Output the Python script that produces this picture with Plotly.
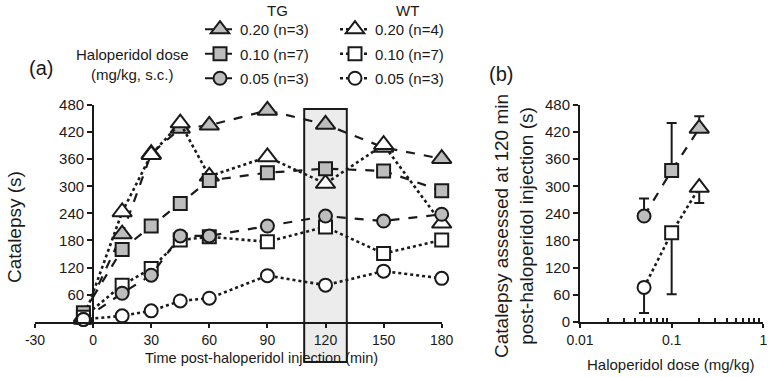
import plotly.graph_objects as go

# ---------------- data ----------------
time_min = [-5, 15, 30, 45, 60, 90, 120, 150, 180]
tg_020 = [10, 194, 372, 428, 435, 468, 437, 386, 361]
wt_020 = [5, 243, 370, 440, 322, 365, 306, 392, 218]
tg_010 = [20, 160, 212, 262, 313, 330, 339, 334, 290]
wt_010 = [10, 81, 118, 181, 188, 177, 210, 151, 181]
tg_005 = [5, 63, 103, 190, 190, 212, 234, 223, 238]
wt_005 = [5, 13, 24, 46, 52, 102, 81, 112, 96]

dose = [0.05, 0.1, 0.2]
tg_120 = [234, 335, 428]
tg_120_err = [39, 105, 27]
wt_120 = [76, 197, 297]
wt_120_err = [57, 136, 34]

a_xticks = [-30, 0, 30, 60, 90, 120, 150, 180]
a_xticktext = ["-30", "0", "30", "60", "90", "120", "150", "180"]
a_yticks = [60, 120, 180, 240, 300, 360, 420, 480]
b_yticks = [0, 60, 120, 180, 240, 300, 360, 420, 480]
b_xticks = [0.01, 0.1, 1]
b_xticktext = ["0.01", "0.1", "1"]
b_minor = [0.02, 0.03, 0.04, 0.05, 0.06, 0.07, 0.08, 0.09,
           0.2, 0.3, 0.4, 0.5, 0.6, 0.7, 0.8, 0.9]

# ---------------- styling ----------------
W, H = 770, 377
INK = "#1a1a1a"
GRAY = "#bdbdbd"
FONT = "Liberation Sans, Arial, sans-serif"

def fx(p):
    return p / W

def fy(p):
    return 1 - p / H

xa_dom = [fx(35), fx(441.7)]
xb_dom = [fx(580), fx(763.3)]
y_dom = [fy(321.7), fy(105)]

fig = go.Figure()

series = [
    ("TG", "0.20 (n=3)", tg_020, "triangle-up", GRAY, "dash", "legend"),
    ("WT", "0.20 (n=4)", wt_020, "triangle-up", "white", "dot", "legend2"),
    ("TG", "0.10 (n=7)", tg_010, "square", GRAY, "dash", "legend"),
    ("WT", "0.10 (n=7)", wt_010, "square", "white", "dot", "legend2"),
    ("TG", "0.05 (n=3)", tg_005, "circle", GRAY, "dash", "legend"),
    ("WT", "0.05 (n=3)", wt_005, "circle", "white", "dot", "legend2"),
]
sizes = {"triangle-up": 17, "square": 13, "circle": 13}

for i, (grp, name, vals, sym, fill, dash, leg) in enumerate(series):
    fig.add_trace(go.Scatter(
        x=time_min, y=vals, mode="lines+markers", name=name,
        legend=leg, legendgroup=f"g{i}",
        line=dict(color=INK, width=2.2 if dash == "dash" else 2.6, dash=dash),
        marker=dict(symbol=sym, size=sizes[sym], color=fill, opacity=1,
                    line=dict(color=INK, width=2)),
        xaxis="x", yaxis="y", cliponaxis=False,
    ))

# panel (b)
b_symbols = ["circle", "square", "triangle-up"]
b_sizes = [13, 13, 17]
fig.add_trace(go.Scatter(
    x=dose, y=tg_120, mode="lines+markers", showlegend=False,
    line=dict(color=INK, width=2.2, dash="dash"),
    marker=dict(symbol=b_symbols, size=b_sizes, color=GRAY, opacity=1,
                line=dict(color=INK, width=2)),
    error_y=dict(type="data", array=tg_120_err, arrayminus=[0, 0, 0],
                 color=INK, thickness=2, width=5),
    xaxis="x2", yaxis="y2", cliponaxis=False,
))
fig.add_trace(go.Scatter(
    x=dose, y=wt_120, mode="lines+markers", showlegend=False,
    line=dict(color=INK, width=2.6, dash="dot"),
    marker=dict(symbol=b_symbols, size=b_sizes, color="white", opacity=1,
                line=dict(color=INK, width=2)),
    error_y=dict(type="data", array=[0, 0, 0], arrayminus=wt_120_err,
                 color=INK, thickness=2, width=5),
    xaxis="x2", yaxis="y2", cliponaxis=False,
))

axis_common = dict(showgrid=False, zeroline=False, showline=True,
                   linecolor=INK, linewidth=2, tickcolor=INK, tickwidth=2,
                   automargin=False)
xfont = dict(family=FONT, size=14, color=INK)
yfont = dict(family=FONT, size=15, color=INK)

a_ypos = xa_dom[0] + (0 - (-30)) / 210 * (xa_dom[1] - xa_dom[0])

fig.update_layout(
    width=W, height=H,
    margin=dict(l=0, r=0, t=0, b=0, autoexpand=False),
    paper_bgcolor="white", plot_bgcolor="rgba(0,0,0,0)",
    font=dict(family=FONT, color=INK),
    xaxis=dict(domain=xa_dom, range=[-30, 180], tickvals=a_xticks,
               ticktext=a_xticktext, tickfont=xfont,
               ticks="outside", ticklen=4, anchor="y", **axis_common),
    yaxis=dict(domain=y_dom, range=[0, 480], tickvals=a_yticks, tickfont=yfont,
               ticks="outside", ticklen=5, anchor="free", position=a_ypos,
               **axis_common),
    xaxis2=dict(domain=xb_dom, type="log", range=[-2, 0], tickvals=b_xticks,
                ticktext=b_xticktext, tickfont=xfont, ticks="outside",
                ticklen=4, anchor="y2",
                minor=dict(tickvals=b_minor, ticks="inside", ticklen=4,
                           tickcolor=INK, tickwidth=1.5, showgrid=False),
                **axis_common),
    yaxis2=dict(domain=y_dom, range=[0, 480], tickvals=b_yticks, tickfont=yfont,
                ticks="outside", ticklen=5, anchor="x2", **axis_common),
    legend=dict(x=fx(200), y=fy(13), xanchor="left", yanchor="top",
                tracegroupgap=2, itemwidth=30, bgcolor="rgba(0,0,0,0)",
                font=dict(family=FONT, size=15, color=INK)),
    legend2=dict(x=fx(335), y=fy(13), xanchor="left", yanchor="top",
                 tracegroupgap=2, itemwidth=30, bgcolor="rgba(0,0,0,0)",
                 font=dict(family=FONT, size=15, color=INK)),
    showlegend=True,
)

# highlighted 120-min box
fig.add_shape(type="rect", xref="x", yref="paper", x0=109, x1=131,
              y0=fy(362), y1=fy(109), fillcolor="#ececec",
              line=dict(color=INK, width=2), layer="below")

ann = [
    dict(text="(a)", x=fx(41), y=fy(68), size=20),
    dict(text="(b)", x=fx(501), y=fy(74), size=20),
    dict(text="Haloperidol dose", x=fx(132), y=fy(55), size=15),
    dict(text="(mg/kg, s.c.)", x=fx(132), y=fy(75), size=15),
    dict(text="TG", x=fx(277), y=fy(10), size=15),
    dict(text="WT", x=fx(407), y=fy(10), size=15),
    dict(text="Time post-haloperidol injection (min)", x=fx(261), y=fy(358), size=14.5),
    dict(text="Haloperidol dose (mg/kg)", x=fx(671), y=fy(364), size=15),
]
for a in ann:
    fig.add_annotation(text=a["text"], x=a["x"], y=a["y"], xref="paper",
                       yref="paper", showarrow=False, xanchor="center",
                       yanchor="middle", font=dict(family=FONT, size=a["size"], color=INK))

fig.add_annotation(text="Catalepsy (s)", x=fx(14), y=fy(227), xref="paper",
                   yref="paper", showarrow=False, textangle=-90,
                   xanchor="center", yanchor="middle",
                   font=dict(family=FONT, size=19, color=INK))
fig.add_annotation(text="Catalepsy assessed at 120 min<br>post-haloperidol injection (s)",
                   x=fx(514), y=fy(226), xref="paper", yref="paper",
                   showarrow=False, textangle=-90,
                   xanchor="center", yanchor="middle",
                   font=dict(family=FONT, size=19, color=INK))

fig.write_html("out.html",
               config={"displayModeBar": False},
               post_script="document.body.style.margin='0';document.body.style.overflow='hidden';")
